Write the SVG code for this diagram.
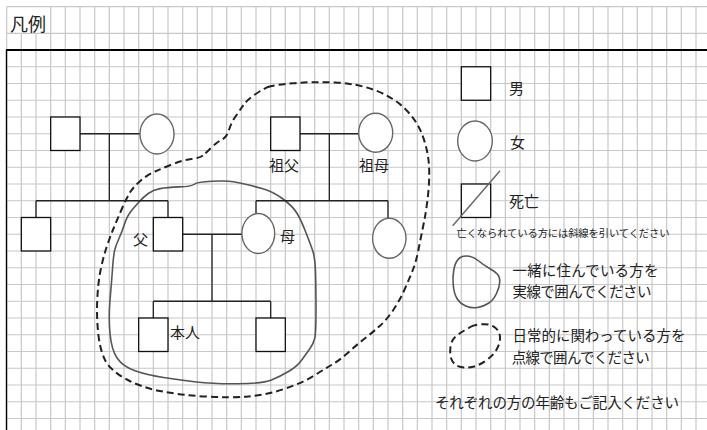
<svg xmlns="http://www.w3.org/2000/svg" width="707" height="430" viewBox="0 0 707 430">
<style>
.grid{stroke:#c8c8c8;stroke-width:1.2;fill:none}
.sq{fill:#fff;stroke:#111;stroke-width:1.3}
.ci{fill:#fff;stroke:#666;stroke-width:1.4}
.ln{stroke:#222;stroke-width:1.3;fill:none}
.solid{fill:none;stroke:#555;stroke-width:1.6;stroke-linejoin:round}
.dash{fill:none;stroke:#222;stroke-width:2;stroke-dasharray:7 4}
text{font-family:"Noto Sans CJK JP","Noto Sans",sans-serif;fill:#222;font-size:15px}
</style>
<rect width="707" height="430" fill="#fff"/>
<g id="grid">
<path class="grid" d="M6.67,6.67V430M21.33,33.33V430M36,33.33V430M50.67,6.67V430M65.33,6.67V430M80,6.67V430M94.67,6.67V430M109.33,6.67V430M124,6.67V430M138.67,6.67V430M153.33,6.67V430M168,6.67V430M182.67,6.67V430M197.33,6.67V430M212,6.67V430M226.67,6.67V430M241.33,6.67V430M256,6.67V430M270.67,6.67V430M285.33,6.67V430M300,6.67V430M314.67,6.67V430M329.33,6.67V430M344,6.67V430M358.67,6.67V430M373.33,6.67V430M388,6.67V430M402.67,6.67V430M417.33,6.67V430M432,6.67V430M446.67,6.67V430M461.33,6.67V430M476,6.67V430M490.67,6.67V430M505.33,6.67V430M520,6.67V430M534.67,6.67V430M549.33,6.67V430M564,6.67V430M578.67,6.67V430M593.33,6.67V430M608,6.67V430M622.67,6.67V430M637.33,6.67V430M652,6.67V430M666.67,6.67V430M681.33,6.67V430M696,6.67V430"/>
<path class="grid" d="M6.67,6.67H707M6.67,33.33H707M6.67,66.75H707M6.67,83.5H707M6.67,100.25H707M6.67,117H707M6.67,133.75H707M6.67,150.5H707M6.67,167.25H707M6.67,184H707M6.67,200.75H707M6.67,217.5H707M6.67,234.25H707M6.67,251H707M6.67,267.75H707M6.67,284.5H707M6.67,301.25H707M6.67,318H707M6.67,334.75H707M6.67,351.5H707M6.67,368.25H707M6.67,385H707M6.67,401.75H707M6.67,418.5H707"/>
<path d="M6.5,50V430" stroke="#000" stroke-width="1.4" fill="none"/>
<path d="M6,50H707" stroke="#000" stroke-width="2" fill="none"/>
</g>
<text x="10" y="31" font-size="18" style="font-size:18px">凡例</text>
<g id="outlines">
<path id="daily-boundary" class="dash" d="M268,87 Q273,85 293,83.25 Q313,81.5 335,82.5 Q357,83.5 375,90.25 Q393,97 404.75,108.5 Q416.5,120 421.75,133.5 Q427,147 428.5,160 Q430,173 428.5,190 Q427,207 424,222 Q421,237 418.5,249.5 Q416,262 413,269.5 Q410,277 405,288.5 Q400,300 393.25,310 Q386.5,320 379.75,326 Q373,332 364.75,338.5 Q356.5,345 348.25,352.5 Q340,360 331.5,365 Q323,370 313.5,376 Q304,382 285.5,388.5 Q267,395 248.5,396.5 Q230,398 205,396.5 Q180,395 160,391 Q140,387 125,378.5 Q110,370 105,360 Q100,350 98.25,333.5 Q96.5,317 97.25,300 Q98,283 100.5,270.5 Q103,258 106.5,247.5 Q110,237 113.5,228.5 Q117,220 122,208.5 Q127,197 130.25,192 Q133.5,187 140.25,181 Q147,175 155,171.5 Q163,168 173,164 Q183,160 191.5,159 Q200,158 203.5,155 Q207,152 212,147 Q217,142 222,139.5 Q227,137 229,130 Q231,123 235.5,116.5 Q240,110 243.5,105 Q247,100 255,94.5 Q263,89 268,87 Z"/>
<path id="household-boundary" class="solid" d="M148.25,193.5 Q153,190 160,188.65 Q167,187.3 179.25,186.9 Q191.5,186.5 194.25,184.25 Q197,182 212,181.25 Q227,180.5 233.5,181.75 Q240,183 245.5,184.25 Q251,185.5 262,188.5 Q273,191.5 283,199 Q293,206.5 297,213.25 Q301,220 305.5,231.5 Q310,243 312.5,250 Q315,257 315.5,272 Q316,287 316,310 Q316,333 314.75,338.25 Q313.5,343.5 310,348.5 Q306.5,353.5 301.75,360 Q297,366.5 288.5,371.5 Q280,376.5 271.5,380 Q263,383.5 238,383.75 Q213,384 196.5,382 Q180,380 163.5,377.5 Q147,375 135,370.75 Q123,366.5 117.25,358.25 Q111.5,350 110,333.5 Q108.5,317 110,300 Q111.5,283 112.5,269 Q113.5,255 114.75,250 Q116,245 118.75,239 Q121.5,233 124.25,224.75 Q127,216.5 130.25,212.25 Q133.5,208 138.5,202.5 Q143.5,197 148.25,193.5 Z"/>
</g>
<g id="connectors">
<path class="ln" d="M80,133.75H140M109.33,133.75V200.75M36,200.75H168M36,200.75V217.5M168,200.75V217.5"/>
<path class="ln" d="M300,133.75H358.7M329.33,133.75V200.75M256,200.75H388M256,200.75V213.5M388,200.75V218.3"/>
<path class="ln" d="M182.67,234.25H242M212,234.25V301.25M153.33,301.25H270.67M153.33,301.25V318M270.67,301.25V318"/>
</g>
<g id="paternal-grandfather"><rect class="sq" x="50.67" y="117" width="29.33" height="33.5"/></g>
<g id="paternal-grandmother"><ellipse class="ci" cx="157" cy="134" rx="17" ry="20"/></g>
<g id="uncle"><rect class="sq" x="21.33" y="217.5" width="29.34" height="33.5"/></g>
<g id="father"><rect class="sq" x="153.33" y="217.5" width="29.34" height="33.5"/><text x="133" y="245">父</text></g>
<g id="grandfather"><rect class="sq" x="270.67" y="117" width="29.33" height="33.5"/><text x="269" y="171">祖父</text></g>
<g id="grandmother"><ellipse class="ci" cx="375.7" cy="132.7" rx="17" ry="19.5"/><text x="359" y="171">祖母</text></g>
<g id="mother"><ellipse class="ci" cx="258.3" cy="233.5" rx="16.4" ry="20"/><text x="280" y="242">母</text></g>
<g id="aunt"><ellipse class="ci" cx="389.3" cy="238.3" rx="16.7" ry="20"/></g>
<g id="self"><rect class="sq" x="138.67" y="318" width="29.33" height="33.5"/><text x="170" y="338">本人</text></g>
<g id="sibling"><rect class="sq" x="256" y="318" width="29.33" height="33.5"/></g>
<g id="legend-male"><rect class="sq" x="461.33" y="66.75" width="29.34" height="33.5"/><text x="509" y="94">男</text></g>
<g id="legend-female"><ellipse class="ci" cx="475" cy="141" rx="17.3" ry="20"/><text x="510" y="147.5">女</text></g>
<g id="legend-deceased"><rect class="sq" x="461.33" y="184" width="29.34" height="33.5"/><path d="M452.7,225.7L500,170.7" stroke="#666" stroke-width="1.4"/><text x="509" y="207">死亡</text><text x="456.5" y="237" style="font-size:10.3px" textLength="213">亡くなられている方には斜線を引いてください</text></g>
<g id="legend-household"><path class="solid" d="M462.25,256.5 Q465,255.5 469.5,256.25 Q474,257 478.75,261 Q483.5,265 489.25,268.25 Q495,271.5 497.5,274.25 Q500,277 499.75,282 Q499.5,287 496.5,293.5 Q493.5,300 488.5,303.25 Q483.5,306.5 477.5,307.5 Q471.5,308.5 465.75,306 Q460,303.5 457,298.5 Q454,293.5 453.25,285.25 Q452.5,277 453.75,270.25 Q455,263.5 457.25,260.5 Q459.5,257.5 462.25,256.5 Z"/><text x="512.5" y="276" style="font-size:14.5px" textLength="146">一緒に住んでいる方を</text><text x="512.5" y="297" style="font-size:14.5px" textLength="139">実線で囲んでください</text></g>
<g id="legend-daily"><path class="dash" d="M470.75,326.75 Q473.5,325 481.75,324.25 Q490,323.5 495,327.5 Q500,331.5 500,337.5 Q500,343.5 496.75,349.25 Q493.5,355 486.75,360 Q480,365 473.25,366.75 Q466.5,368.5 460,366.75 Q453.5,365 451.5,359.25 Q449.5,353.5 450.5,346.75 Q451.5,340 455.75,336.5 Q460,333 464,330.75 Q468,328.5 470.75,326.75 Z"/><text x="512.5" y="341" style="font-size:14.5px" textLength="173">日常的に関わっている方を</text><text x="511.7" y="363" style="font-size:14.5px" textLength="138">点線で囲んでください</text></g>
<g id="legend-age"><text x="435" y="407.5" style="font-size:14.5px" textLength="244">それぞれの方の年齢もご記入ください</text></g>
</svg>
